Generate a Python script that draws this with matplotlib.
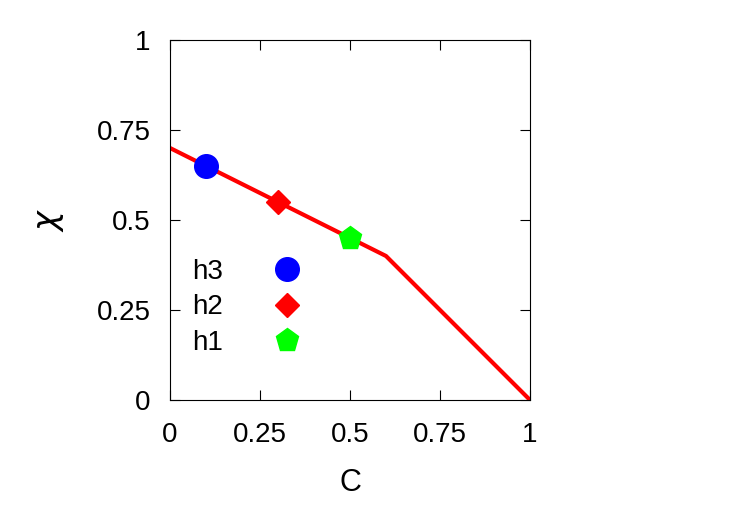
import matplotlib
matplotlib.use("Agg")
import matplotlib.pyplot as plt

line_x = [0, 0.6, 1.0]
line_y = [0.7, 0.4, 0.0]
labels = ["h3", "h2", "h1"]
pts_x = [0.1, 0.3, 0.5]
pts_y = [0.65, 0.55, 0.45]
markers = ["o", "D", "p"]
colors = ["#0000ff", "#ff0000", "#00ff00"]
sizes = [17, 12, 17]
ticks = [0, 0.25, 0.5, 0.75, 1]
ticklabels = ["0", "0.25", "0.5", "0.75", "1"]

plt.rcParams['font.family'] = ['Liberation Sans', 'DejaVu Sans']
fig = plt.figure(figsize=(7.5, 5.25), dpi=100)
ax = fig.add_axes([170/750, 125/525, 360/750, 360/525])
ax.plot(line_x, line_y, color="#ff0000", lw=3, zorder=2)
handles = []
for lab, x, y, m, c, s in zip(labels, pts_x, pts_y, markers, colors, sizes):
    h, = ax.plot([x], [y], linestyle="none", marker=m, color=c, markersize=s, zorder=3, label=lab)
    handles.append(h)
ax.set_xlim(0, 1); ax.set_ylim(0, 1)
ax.set_xticks(ticks); ax.set_xticklabels(ticklabels)
ax.set_yticks(ticks); ax.set_yticklabels(ticklabels)
ax.tick_params(direction="in", top=True, right=True, labelsize=20, length=7)
ax.tick_params(axis="y", pad=14)
ax.tick_params(axis="x", pad=16)
ax.set_xlabel("C", fontsize=22, labelpad=14)
ax.set_ylabel(r"$\chi$", fontsize=24, labelpad=22)
ax.legend(handles=handles, loc="lower left", bbox_to_anchor=(0.0, 0.06), frameon=False,
          fontsize=20, markerfirst=False, handletextpad=1.3, labelspacing=0.35,
          borderpad=0.3)
fig.savefig("out.png", dpi=100)
